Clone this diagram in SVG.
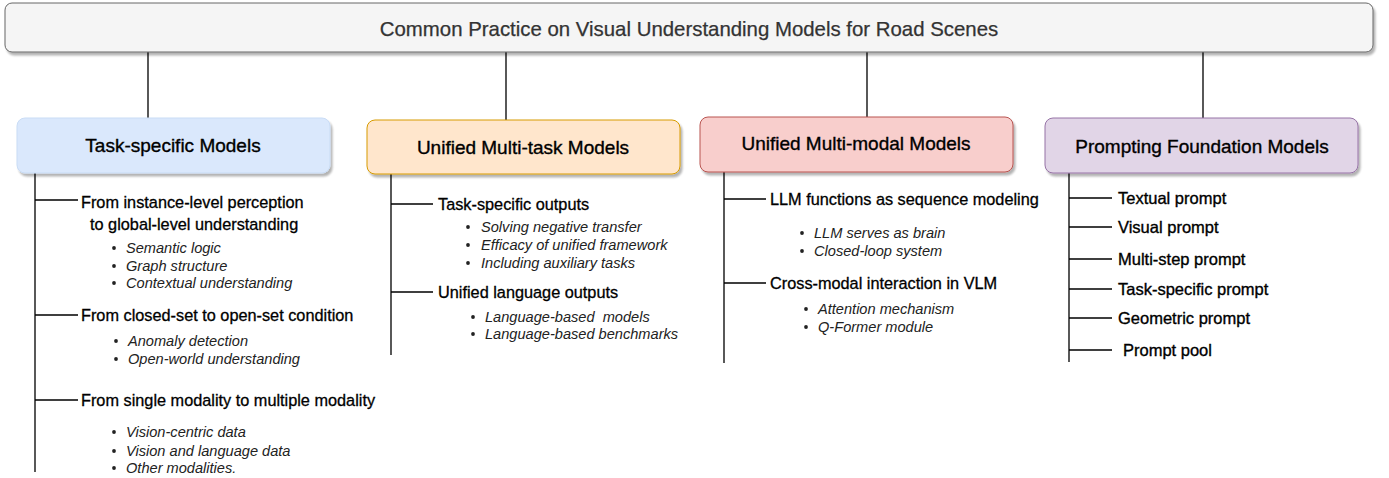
<svg xmlns="http://www.w3.org/2000/svg" width="1389" height="478" viewBox="0 0 1389 478">
<defs>
<filter id="sh" x="-5%" y="-20%" width="110%" height="150%">
<feGaussianBlur in="SourceAlpha" stdDeviation="1.2"/>
<feOffset dx="2" dy="3" result="o"/>
<feComponentTransfer><feFuncA type="linear" slope="0.3"/></feComponentTransfer>
<feMerge><feMergeNode/><feMergeNode in="SourceGraphic"/></feMerge>
</filter>
</defs>
<style>
text{font-family:"Liberation Sans",Arial,Helvetica,sans-serif;fill:#000}
.title{font-size:20.4px;fill:#333;stroke:#333;stroke-width:0.25}
.bt{font-size:19px;stroke:#000;stroke-width:0.35}
.h{font-size:16.3px;stroke:#000;stroke-width:0.3}
.p{font-size:16.5px;stroke:#000;stroke-width:0.35}
.b{font-size:14.6px;font-style:italic;fill:#222}
.line{stroke:#000;stroke-width:1.3;fill:none}
.dot{fill:#222}
</style>
<rect width="1389" height="478" fill="#fff"/>
<g id="connectors">
<path class="line" d="M148 52V118M506 52V120M867 52V117M1203 52V118"/>
<path class="line" d="M35 173V472M35 200H78M35 315H78M35 400H78"/>
<path class="line" d="M391 174V355M391 204H433M391 292H433"/>
<path class="line" d="M724 172V363M724 199H766M724 283H766"/>
<path class="line" d="M1069 173V362M1069 198H1112M1069 227H1112M1069 259H1112M1069 289H1112M1069 318H1112M1069 350H1112"/>
</g>
<g id="title">
<rect x="5" y="3" width="1368" height="49" rx="7" fill="#f5f5f5" stroke="#666" stroke-width="1" filter="url(#sh)"/>
<text class="title" x="689" y="36" text-anchor="middle">Common Practice on Visual Understanding Models for Road Scenes</text>
</g>
<g id="task-specific">
<rect x="17" y="118" width="313" height="55" rx="8" fill="#dae8fc" stroke="#c9dcf5" stroke-width="1" filter="url(#sh)"/>
<text class="bt" x="173" y="152" text-anchor="middle">Task-specific Models</text>
<text class="h" x="81" y="208">From instance-level perception</text>
<text class="h" x="90" y="230">to global-level understanding</text>
<circle class="dot" cx="114" cy="248" r="1.9"/><text class="b" x="126" y="253">Semantic logic</text>
<circle class="dot" cx="114" cy="266" r="1.9"/><text class="b" x="126" y="271">Graph structure</text>
<circle class="dot" cx="114" cy="283" r="1.9"/><text class="b" x="126" y="288">Contextual understanding</text>
<text class="h" x="81" y="321">From closed-set to open-set condition</text>
<circle class="dot" cx="116" cy="341" r="1.9"/><text class="b" x="128" y="346">Anomaly detection</text>
<circle class="dot" cx="116" cy="359" r="1.9"/><text class="b" x="128" y="364">Open-world understanding</text>
<text class="h" x="81" y="406">From single modality to multiple modality</text>
<circle class="dot" cx="114" cy="432" r="1.9"/><text class="b" x="126" y="437">Vision-centric data</text>
<circle class="dot" cx="114" cy="451" r="1.9"/><text class="b" x="126" y="456">Vision and language data</text>
<circle class="dot" cx="114" cy="468" r="1.9"/><text class="b" x="126" y="473">Other modalities.</text>
</g>
<g id="multi-task">
<rect x="367" y="120" width="313" height="54" rx="8" fill="#ffe6cc" stroke="#d79b00" stroke-width="1" filter="url(#sh)"/>
<text class="bt" x="523" y="154" text-anchor="middle">Unified Multi-task Models</text>
<text class="h" x="438" y="210">Task-specific outputs</text>
<circle class="dot" cx="468" cy="227" r="1.9"/><text class="b" x="481" y="232">Solving negative transfer</text>
<circle class="dot" cx="468" cy="245" r="1.9"/><text class="b" x="481" y="250">Efficacy of unified framework</text>
<circle class="dot" cx="468" cy="263" r="1.9"/><text class="b" x="481" y="268">Including auxiliary tasks</text>
<text class="h" x="438" y="298">Unified language outputs</text>
<circle class="dot" cx="473" cy="317" r="1.9"/><text class="b" x="485" y="322" xml:space="preserve">Language-based  models</text>
<circle class="dot" cx="473" cy="334" r="1.9"/><text class="b" x="485" y="339">Language-based benchmarks</text>
</g>
<g id="multi-modal">
<rect x="700" y="117" width="313" height="55" rx="8" fill="#f8cecc" stroke="#b85450" stroke-width="1" filter="url(#sh)"/>
<text class="bt" x="856" y="150" text-anchor="middle">Unified Multi-modal Models</text>
<text class="h" x="770" y="205">LLM functions as sequence modeling</text>
<circle class="dot" cx="802" cy="233" r="1.9"/><text class="b" x="814" y="238">LLM serves as brain</text>
<circle class="dot" cx="802" cy="251" r="1.9"/><text class="b" x="814" y="256">Closed-loop system</text>
<text class="h" x="770" y="289">Cross-modal interaction in VLM</text>
<circle class="dot" cx="806" cy="309" r="1.9"/><text class="b" x="818" y="314">Attention mechanism</text>
<circle class="dot" cx="806" cy="327" r="1.9"/><text class="b" x="818" y="332">Q-Former module</text>
</g>
<g id="prompting">
<rect x="1045" y="118" width="313" height="55" rx="8" fill="#e1d5e7" stroke="#9673a6" stroke-width="1" filter="url(#sh)"/>
<text class="bt" x="1202" y="153" text-anchor="middle">Prompting Foundation Models</text>
<text class="p" x="1118" y="204">Textual prompt</text>
<text class="p" x="1118" y="233">Visual prompt</text>
<text class="p" x="1118" y="265">Multi-step prompt</text>
<text class="p" x="1118" y="295">Task-specific prompt</text>
<text class="p" x="1118" y="324">Geometric prompt</text>
<text class="p" x="1123" y="356">Prompt pool</text>
</g>
</svg>
